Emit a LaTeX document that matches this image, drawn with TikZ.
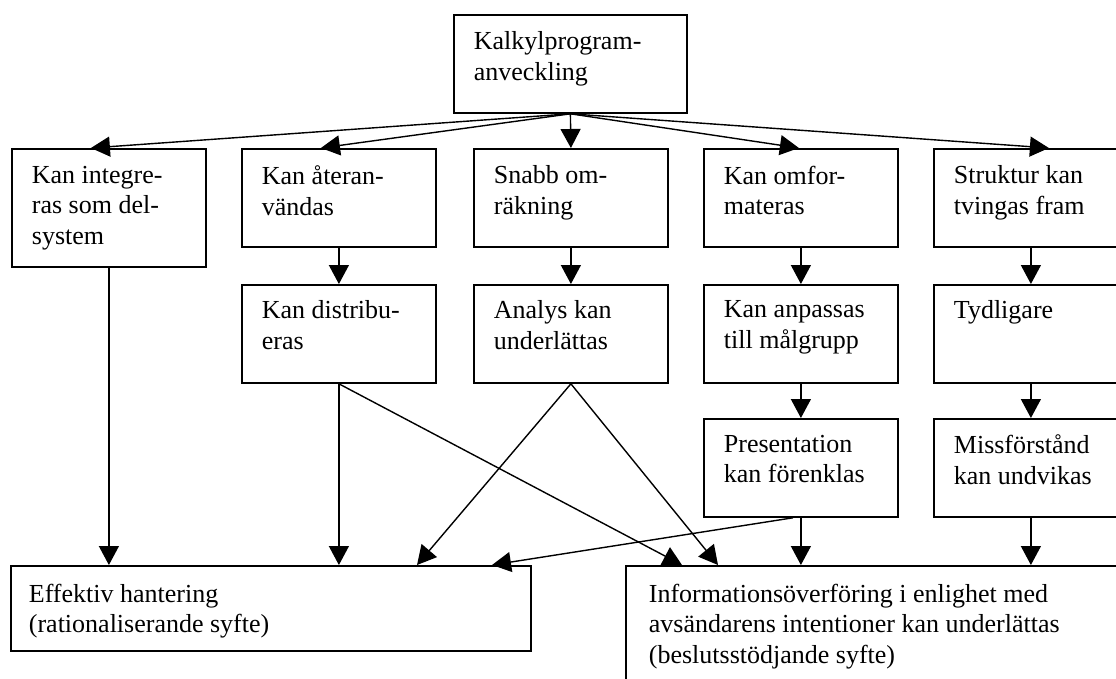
\documentclass[tikz,border=0pt]{standalone}
\usepackage{fontspec}
\setmainfont{Liberation Serif}
\usetikzlibrary{arrows.meta}

% width, height, top padding, left padding, text
\newcommand\boxtext[5]{%
  \parbox[c][#2][t]{#1}{\raggedright\leftskip=#4\relax\vspace*{#3}#5}}

\tikzset{
  box/.style={draw, line width=1.8pt, anchor=north west, inner sep=0pt,
    font=\fontsize{26}{30.5}\selectfont},
  link/.style={line width=1.4pt, -{Triangle[width=20pt,length=19pt]}},
}

\begin{document}
\begin{tikzpicture}[x=1pt,y=-1pt]
\useasboundingbox (0,0) rectangle (1116,678);
\clip (0,0) rectangle (1116,678);

% top
\node[box] (top) at (453,14) {\boxtext{233pt}{98pt}{17pt}{20pt}{Kalkylprogram-\\anveckling}};

% first row
\node[box] (a1) at (11,148)  {\boxtext{194pt}{118pt}{17pt}{20pt}{Kan integre-\\ras som del-\\system}};
\node[box] (a2) at (241,148) {\boxtext{194pt}{98pt}{17pt}{20pt}{Kan \aa teran-\\v\"andas}};
\node[box] (a3) at (473,148) {\boxtext{194pt}{98pt}{17pt}{20pt}{Snabb om-\\r\"akning}};
\node[box] (a4) at (703,148) {\boxtext{194pt}{98pt}{17pt}{20pt}{Kan omfor-\\materas}};
\node[box] (a5) at (933,148) {\boxtext{194pt}{98pt}{17pt}{20pt}{Struktur kan\\tvingas fram}};

% second row
\node[box] (b2) at (241,284) {\boxtext{194pt}{98pt}{16pt}{20pt}{Kan distribu-\\eras}};
\node[box] (b3) at (473,284) {\boxtext{194pt}{98pt}{16pt}{20pt}{Analys kan\\underl\"attas}};
\node[box] (b4) at (703,284) {\boxtext{194pt}{98pt}{16pt}{20pt}{Kan anpassas\\till m\aa lgrupp}};
\node[box] (b5) at (933,284) {\boxtext{194pt}{98pt}{16pt}{20pt}{Tydligare}};

% third row
\node[box] (c4) at (703,418) {\boxtext{194pt}{98pt}{16pt}{20pt}{Presentation\\kan f\"orenklas}};
\node[box] (c5) at (933,418) {\boxtext{194pt}{98pt}{16pt}{20pt}{Missf\"orst\aa nd\\kan undvikas}};

% goals
\node[box] (eff) at (10,565) {\boxtext{520pt}{85pt}{18pt}{18pt}{Effektiv hantering\\(rationaliserande syfte)}};
\node[box] (info) at (625,565) {\boxtext{520pt}{140pt}{18pt}{23pt}{Informations\"overf\"oring i enlighet med\\avs\"andarens intentioner kan underl\"attas\\(beslutsst\"odjande syfte)}};

% fan out from the top box
\draw[link] (top.south) -- ([xshift=-18pt]a1.north);
\draw[link] (top.south) -- ([xshift=-18pt]a2.north);
\draw[link] (top.south) -- (a3.north);
\draw[link] (top.south) -- ([xshift=-2pt]a4.north);
\draw[link] (top.south) -- ([xshift=18pt]a5.north);

% column chains
\draw[link] (a2.south) -- (b2.north);
\draw[link] (a3.south) -- (b3.north);
\draw[link] (a4.south) -- (b4.north);
\draw[link] (a5.south) -- (b5.north);
\draw[link] (b4.south) -- (c4.north);
\draw[link] (b5.south) -- (c5.north);

% into the goal boxes
\draw[link] (a1.south) -- (a1.south |- eff.north);
\draw[link] (b2.south) -- (b2.south |- eff.north);
\draw[link] (b3.south) -- ([xshift=407pt]eff.north west);
\draw[link] ([xshift=-8pt]c4.south) -- ([xshift=482pt]eff.north west);
\draw[link] (b2.south) -- ([xshift=57pt]info.north west);
\draw[link] (b3.south) -- ([xshift=93pt]info.north west);
\draw[link] (c4.south) -- (c4.south |- info.north);
\draw[link] (c5.south) -- (c5.south |- info.north);
\end{tikzpicture}
\end{document}
